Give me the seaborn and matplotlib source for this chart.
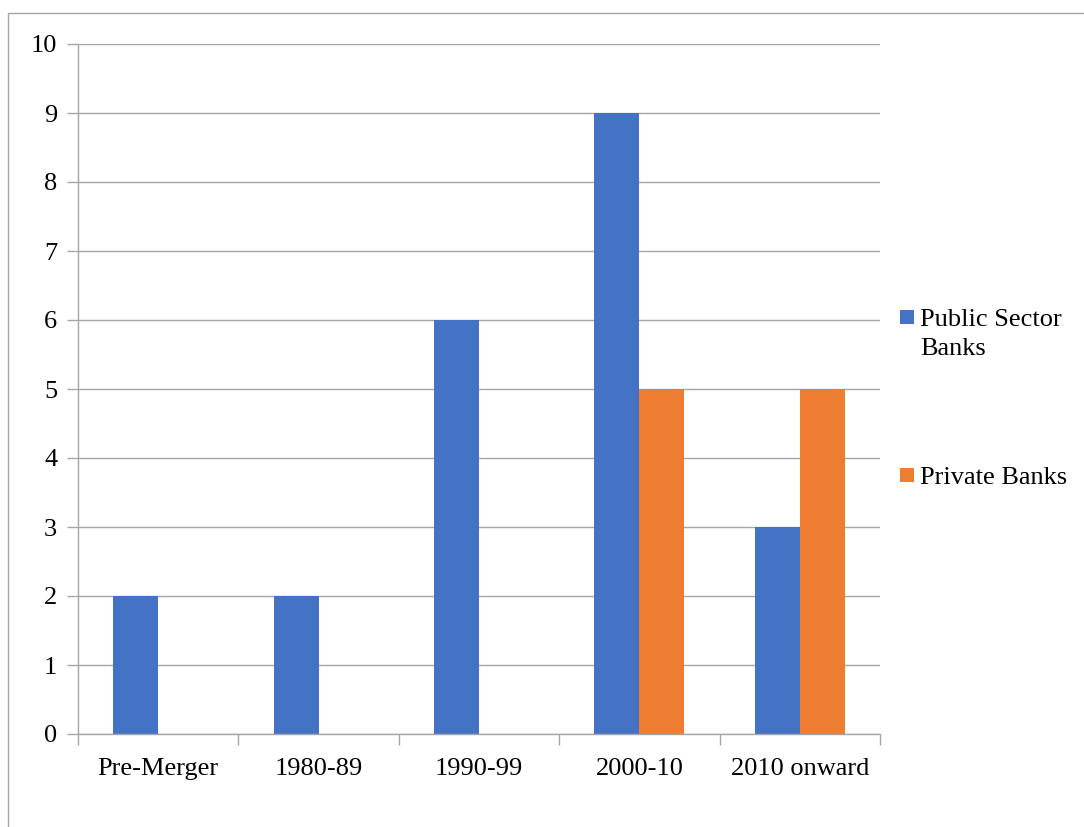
import matplotlib
matplotlib.use("Agg")
import matplotlib.pyplot as plt
from matplotlib.patches import Rectangle
import seaborn as sns
import pandas as pd
import numpy as np

categories = ["Pre-Merger", "1980-89", "1990-99", "2000-10", "2010 onward"]
public_sector = [2, 2, 6, 9, 3]
private_banks = [0, 0, 0, 5, 5]
series_names = ["Public Sector\nBanks", "Private Banks"]
colors = ["#4472C4", "#ED7D31"]

df = pd.DataFrame({
    "period": categories * 2,
    "count": public_sector + private_banks,
    "group": [series_names[0]] * len(categories) + [series_names[1]] * len(categories),
})

sns.set_theme(style="white")
plt.rcParams["font.family"] = ["Liberation Serif", "DejaVu Serif"]

W, H = 1084, 827
fig = plt.figure(figsize=(W / 100, H / 100), dpi=100)
ax = fig.add_axes([78 / W, 1 - 734 / H, (880 - 78) / W, (734 - 44) / H])

sns.barplot(data=df, x="period", y="count", hue="group", order=categories,
            hue_order=series_names, palette=colors, width=0.56, gap=0,
            linewidth=0, saturation=1, legend=False, ax=ax)

grid_c = "#A6A6A6"
ax.set_xlim(-0.5, len(categories) - 0.5)
ax.set_ylim(0, 10)
ax.set_yticks(range(0, 11))
ax.yaxis.grid(True, color=grid_c, linewidth=1)
ax.set_axisbelow(True)
ax.set_xlabel("")
ax.set_ylabel("")

for side in ["top", "right"]:
    ax.spines[side].set_visible(False)
for side in ["left", "bottom"]:
    ax.spines[side].set_color(grid_c)
    ax.spines[side].set_linewidth(1)

ax.tick_params(axis="y", which="major", length=8, width=1, color=grid_c,
               labelsize=19, pad=7, left=True, direction="out")
ax.tick_params(axis="x", which="major", length=0, labelsize=19, pad=17)
ax.set_xticks(np.arange(-0.5, len(categories)), minor=True)
ax.tick_params(axis="x", which="minor", length=8, width=1, color=grid_c,
               bottom=True, direction="out")
for lbl in ax.get_xticklabels() + ax.get_yticklabels():
    lbl.set_color("#000000")

# legend: colour square beside the first line of each label
def px(x, y):
    return x / W, 1 - y / H

legend_rows = [(series_names[0], colors[0], 326), (series_names[1], colors[1], 484)]
line_step = 29
for label, color, baseline in legend_rows:
    x0, y0 = px(900, baseline - 2)
    fig.add_artist(Rectangle((x0, y0), 14 / W, 14 / H, transform=fig.transFigure,
                             facecolor=color, edgecolor="none"))
    for i, line in enumerate(label.split("\n")):
        tx, ty = px(920, baseline + i * line_step)
        fig.text(tx, ty, line, fontsize=19, va="baseline", ha="left",
                 color="#000000")

# chart frame
fig.add_artist(Rectangle((8 / W, -0.1), 1.2, 1.1 - 13 / H,
                         transform=fig.transFigure, fill=False,
                         edgecolor="#A6A6A6", linewidth=1))

fig.savefig("out.png", dpi=100, facecolor="white")
